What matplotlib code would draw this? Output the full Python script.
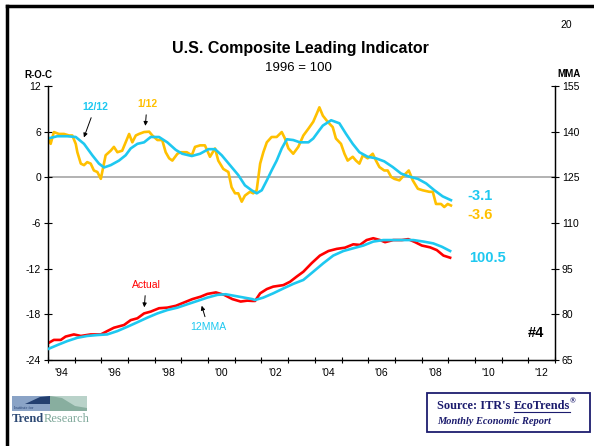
import matplotlib
matplotlib.use("Agg")
import matplotlib.pyplot as plt
from matplotlib.patches import Rectangle, Polygon

plt.rcParams['font.family'] = ['Liberation Sans', 'DejaVu Sans']

# rate of change, 1/12 (yellow)
roc1_x = [1994.00, 1994.10, 1994.22, 1994.41, 1994.60, 1994.79, 1994.91, 1995.04, 1995.10, 1995.23,
          1995.35, 1995.47, 1995.60, 1995.72, 1995.85, 1995.98, 1996.07, 1996.16, 1996.35, 1996.47,
          1996.60, 1996.78, 1996.91, 1997.04, 1997.16, 1997.29, 1997.41, 1997.60, 1997.79, 1997.91,
          1998.10, 1998.28, 1998.41, 1998.54, 1998.66, 1998.85, 1998.97, 1999.20, 1999.39, 1999.51,
          1999.70, 1999.88, 2000.07, 2000.26, 2000.38, 2000.57, 2000.76, 2000.88, 2001.01, 2001.13,
          2001.26, 2001.38, 2001.57, 2001.69, 2001.82, 2001.95, 2002.07, 2002.20, 2002.38, 2002.57,
          2002.76, 2002.88, 2003.01, 2003.19, 2003.38, 2003.57, 2003.76, 2003.94, 2004.10, 2004.17,
          2004.30, 2004.48, 2004.67, 2004.79, 2004.98, 2005.11, 2005.23, 2005.42, 2005.54, 2005.67,
          2005.80, 2005.98, 2006.17, 2006.29, 2006.42, 2006.60, 2006.73, 2006.86, 2006.98, 2007.17,
          2007.35, 2007.52, 2007.67, 2007.86, 2008.04, 2008.29, 2008.42, 2008.54, 2008.73, 2008.85,
          2008.98, 2009.10]
roc1_y = [5.3, 4.4, 5.95, 5.7, 5.7, 5.5, 5.5, 4.4, 3.3, 1.8,
          1.6, 2.0, 1.8, 0.9, 0.7, -0.2, 1.35, 2.9, 3.5, 4.0,
          3.3, 3.5, 4.6, 5.7, 4.6, 5.5, 5.7, 5.95, 6.0, 5.5,
          4.9, 4.9, 3.3, 2.5, 2.2, 3.1, 3.3, 3.3, 2.9, 4.0,
          4.2, 4.2, 2.7, 3.8, 2.2, 1.1, 0.7, -1.3, -2.1, -2.1,
          -3.2, -2.4, -1.9, -2.1, -1.7, 1.8, 3.3, 4.6, 5.3, 5.3,
          5.95, 5.1, 3.8, 3.1, 4.0, 5.5, 6.4, 7.3, 8.6, 9.2,
          8.1, 7.3, 6.6, 5.1, 4.4, 3.1, 2.2, 2.7, 2.2, 1.8,
          2.9, 2.5, 3.1, 2.2, 1.35, 0.9, 0.9, 0.05, -0.2, -0.4,
          0.3, 0.9, -0.4, -1.5, -1.7, -1.9, -1.9, -3.5, -3.5, -3.9,
          -3.5, -3.7]

# rate of change, 12/12 (blue)
roc12_x = [1994.00, 1994.35, 1994.72, 1995.04, 1995.35, 1995.66, 1995.91, 1996.10, 1996.35, 1996.66,
           1996.91, 1997.10, 1997.35, 1997.60, 1997.85, 1998.16, 1998.47, 1998.79, 1999.03, 1999.39,
           1999.70, 2000.01, 2000.26, 2000.51, 2000.82, 2001.13, 2001.38, 2001.63, 2001.82, 2002.01,
           2002.20, 2002.38, 2002.57, 2002.76, 2002.95, 2003.19, 2003.44, 2003.76, 2003.94, 2004.17,
           2004.30, 2004.61, 2004.92, 2005.17, 2005.42, 2005.67, 2005.98, 2006.29, 2006.60, 2006.92,
           2007.23, 2007.54, 2007.86, 2008.17, 2008.48, 2008.79, 2009.10]
roc12_y = [5.1, 5.4, 5.4, 5.3, 4.4, 2.9, 1.8, 1.3, 1.6, 2.2,
           2.9, 3.8, 4.4, 4.6, 5.3, 5.3, 4.6, 3.6, 3.1, 2.8,
           3.1, 3.7, 3.7, 2.9, 1.6, 0.3, -1.05, -1.7, -2.1, -1.7,
           -0.4, 0.9, 2.2, 3.8, 5.0, 4.9, 4.6, 4.6, 5.1, 6.2,
           6.8, 7.5, 7.1, 5.7, 4.4, 3.3, 2.7, 2.5, 2.1, 1.35,
           0.5, 0.1, -0.2, -0.8, -1.7, -2.5, -3.0]

# leading indicator, actual (red)
act_x = [1994.00, 1994.22, 1994.48, 1994.66, 1994.97, 1995.23, 1995.60, 1995.98, 1996.22, 1996.47,
         1996.85, 1997.10, 1997.35, 1997.60, 1997.85, 1998.16, 1998.47, 1998.79, 1999.10, 1999.41,
         1999.72, 1999.97, 2000.29, 2000.60, 2000.91, 2001.22, 2001.47, 2001.66, 2001.76, 2001.95,
         2002.20, 2002.44, 2002.82, 2003.07, 2003.32, 2003.57, 2003.88, 2004.19, 2004.51, 2004.82,
         2005.13, 2005.44, 2005.69, 2005.94, 2006.19, 2006.44, 2006.63, 2006.94, 2007.26, 2007.50,
         2007.76, 2008.01, 2008.32, 2008.57, 2008.82, 2009.07]
act_y = [70.5, 71.6, 71.6, 72.7, 73.4, 72.9, 73.4, 73.4, 74.5, 75.6,
         76.5, 78.1, 78.7, 80.3, 80.9, 82.0, 82.2, 82.8, 83.9, 85.0,
         85.8, 86.7, 87.2, 86.4, 85.0, 84.2, 84.5, 84.4, 84.4, 86.9,
         88.3, 89.1, 89.6, 90.7, 92.4, 94.0, 96.8, 99.3, 100.8, 101.5,
         101.9, 103.0, 102.8, 104.4, 105.0, 104.4, 103.7, 104.4, 104.4, 104.7,
         103.7, 102.6, 102.0, 101.1, 99.3, 98.6]

# leading indicator, 12MMA (blue)
mma_x = [1994.00, 1994.35, 1994.72, 1995.10, 1995.47, 1995.85, 1996.22, 1996.60, 1996.97, 1997.35,
         1997.72, 1998.10, 1998.47, 1998.85, 1999.22, 1999.60, 1999.97, 2000.35, 2000.66, 2000.97,
         2001.35, 2001.66, 2001.76, 2002.07, 2002.44, 2002.82, 2003.19, 2003.57, 2003.94, 2004.32,
         2004.69, 2005.07, 2005.44, 2005.82, 2006.19, 2006.57, 2006.94, 2007.32, 2007.69, 2008.07,
         2008.44, 2008.76, 2009.07]
mma_y = [68.6, 69.9, 71.2, 72.3, 72.9, 73.2, 73.4, 74.5, 75.9, 77.4,
         78.9, 80.3, 81.4, 82.2, 83.3, 84.4, 85.5, 86.4, 86.6, 86.1,
         85.5, 85.0, 84.7, 85.5, 86.9, 88.5, 90.0, 91.3, 94.0, 96.8,
         99.3, 100.8, 101.7, 102.6, 103.9, 104.4, 104.4, 104.4, 104.4, 103.9,
         103.3, 102.2, 100.8]

left_ticks = [12, 6, 0, -6, -12, -18, -24]
right_ticks = [155, 140, 125, 110, 95, 80, 65]
year_ticks = list(range(1994, 2014))
year_labels = ["'94", "'96", "'98", "'00", "'02", "'04", "'06", "'08", "'10", "'12"]
label_years = [1994.5, 1996.5, 1998.5, 2000.5, 2002.5, 2004.5, 2006.5, 2008.5, 2010.5, 2012.5]

YELLOW = '#FFC000'
CYAN = '#1EC8F0'
RED = '#FF0000'
NAVY = '#1C1C6E'

W, H = 594, 446
fig = plt.figure(figsize=(W / 100, H / 100), dpi=100)

def fx(x):
    return x / W

def fy(y):
    return 1 - y / H

ax = fig.add_axes([fx(48), fy(360), fx(555) - fx(48), fy(86) - fy(360)])
ax2 = ax.twinx()

ax.axhline(0, color='#A6A6A6', lw=1.2, zorder=1)
ax.plot(roc1_x, roc1_y, color=YELLOW, lw=1.9, zorder=2)
ax.plot(roc12_x, roc12_y, color=CYAN, lw=1.9, zorder=3)
ax2.plot(act_x, act_y, color=RED, lw=1.9, zorder=2)
ax2.plot(mma_x, mma_y, color=CYAN, lw=1.9, zorder=3)

ax.set_xlim(1994, 2013)
ax.set_ylim(-24, 12)
ax2.set_ylim(65, 155)
ax.set_yticks(left_ticks)
ax.set_yticklabels([str(t) for t in left_ticks], fontsize=7.5)
ax2.set_yticks(right_ticks)
ax2.set_yticklabels([str(t) for t in right_ticks], fontsize=7.5)
ax.set_xticks(year_ticks)
ax.set_xticklabels([])
ax.set_xticks(label_years, minor=True)
ax.set_xticklabels(year_labels, minor=True, fontsize=7.5)
ax.tick_params(axis='x', which='major', direction='inout', length=5, width=0.8)
ax.tick_params(axis='x', which='minor', length=0, pad=6)
ax.tick_params(axis='y', direction='inout', length=6, width=0.8, pad=2)
ax2.tick_params(axis='y', direction='inout', length=6, width=0.8, pad=2)
for a in (ax, ax2):
    a.spines['top'].set_visible(False)
    for s in ('left', 'right', 'bottom'):
        a.spines[s].set_linewidth(0.9)
ax.patch.set_visible(False)

# series annotations
arrow = dict(arrowstyle='-|>', color='black', lw=0.7, mutation_scale=6)
ax.annotate('12/12', xy=(1995.31, 4.9), xytext=(1995.76, 9.2), color=CYAN, fontsize=7.5,
            fontweight='bold', ha='center', va='center', arrowprops=arrow)
ax.annotate('1/12', xy=(1997.64, 6.4), xytext=(1997.71, 9.6), color=YELLOW, fontsize=7.5,
            fontweight='bold', ha='center', va='center', arrowprops=arrow)
ax2.annotate('Actual', xy=(1997.6, 81.4), xytext=(1997.67, 89.6), color=RED, fontsize=7.5,
             ha='center', va='center', arrowprops=arrow)
ax2.annotate('12MMA', xy=(1999.73, 83.7), xytext=(2000.0, 75.8), color=CYAN, fontsize=7.5,
             ha='center', va='center', arrowprops=arrow)
ax.text(2009.7, -2.5, '-3.1', color=CYAN, fontsize=10.5, fontweight='bold', va='center')
ax.text(2009.7, -4.9, '-3.6', color=YELLOW, fontsize=10.5, fontweight='bold', va='center')
ax2.text(2009.8, 98.5, '100.5', color=CYAN, fontsize=10.5, fontweight='bold', va='center')
ax2.text(2012.3, 73.9, '#4', color='black', fontsize=10.5, fontweight='bold', va='center', ha='center')

# titles and axis captions
fig.text(fx(300), fy(48), 'U.S. Composite Leading Indicator', fontsize=11.5, fontweight='bold',
         ha='center', va='center')
fig.text(fx(298), fy(68), '1996 = 100', fontsize=9.5, ha='center', va='center')
fig.text(fx(38), fy(75), 'R-O-C', fontsize=7, fontweight='bold', ha='center', va='center')
fig.text(fx(569), fy(74), 'MMA', fontsize=7, fontweight='bold', ha='center', va='center')
fig.text(fx(566), fy(25), '20', fontsize=7.5, ha='center', va='center')

# slide border (top and left)
fig.add_artist(plt.Line2D([fx(7), 1], [fy(6), fy(6)], color='black', lw=2.5))
fig.add_artist(plt.Line2D([fx(7), fx(7)], [fy(6), 0], color='black', lw=2.5))

# source box
fig.add_artist(Rectangle((fx(427), fy(432)), fx(590) - fx(427), fy(393) - fy(432),
                         fill=False, edgecolor=NAVY, lw=1.3))
serif = ['Liberation Serif', 'DejaVu Serif']
renderer = fig.canvas.get_renderer()
t1 = fig.text(fx(437), fy(406), "Source: ITR's", family=serif, fontsize=8.8, fontweight='bold',
              color=NAVY, va='center')
x1 = t1.get_window_extent(renderer).x1
t2 = fig.text(x1 / W + 0.006, fy(406), 'EcoTrends', family=serif, fontsize=8.8, fontweight='bold',
              color=NAVY, va='center')
bb = t2.get_window_extent(renderer)
fig.add_artist(plt.Line2D([bb.x0 / W, bb.x1 / W], [fy(412), fy(412)], color=NAVY, lw=0.8))
fig.text(bb.x1 / W, fy(401), '®', family=serif, fontsize=5.5, fontweight='bold',
         color=NAVY, va='center')
fig.text(fx(437), fy(421), 'Monthly Economic Report', family=serif, fontsize=7.5, fontweight='bold',
         style='italic', color=NAVY, va='center')

# logo
fig.add_artist(Rectangle((fx(12), fy(411)), fx(50) - fx(12), fy(396) - fy(411),
                         facecolor='#8AA3C6', edgecolor='none'))
fig.add_artist(Rectangle((fx(50), fy(411)), fx(87) - fx(50), fy(396) - fy(411),
                         facecolor='#B9D2C9', edgecolor='none'))
fig.add_artist(Polygon([(fx(25), fy(404)), (fx(40), fy(397)), (fx(50), fy(396)),
                        (fx(50), fy(404))], closed=True, facecolor='#233F70', edgecolor='none'))
fig.add_artist(Polygon([(fx(50), fy(396)), (fx(62), fy(398)), (fx(75), fy(406)), (fx(87), fy(408)),
                        (fx(87), fy(411)), (fx(50), fy(411))], closed=True,
                       facecolor='#88AE9F', edgecolor='none'))
fig.text(fx(14), fy(408), 'Institute for', family=serif, fontsize=3, color='#233F70', va='center')
lt = fig.text(fx(12), fy(419), 'Trend', family=serif, fontsize=9, fontweight='bold',
              color='#2E4A75', va='center')
lx = lt.get_window_extent(renderer).x1
fig.text(lx / W, fy(419), 'Research', family=serif, fontsize=9, color='#7FA89A', va='center')

fig.savefig('out.png', dpi=100)
